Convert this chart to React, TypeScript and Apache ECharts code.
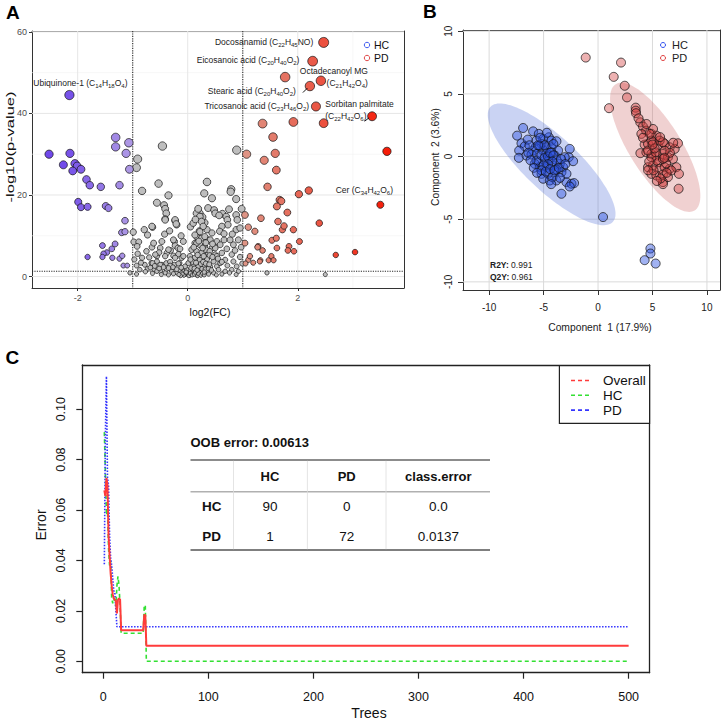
import { useEffect, useRef } from 'react';
import * as echarts from 'echarts';

const SANS = '"Liberation Sans", Arial, Helvetica, sans-serif';

// ---------- Panel A: volcano plot, points are [log2(FC), -log10(p-value)] ----------
const upRegulated: number[][] = [
  [2.47, 57.4], [2.27, 52.8], [1.77, 48.9], [2.42, 48.0], [2.22, 46.7], [2.33, 41.7], [3.35, 39.3],
  [1.92, 37.9], [2.47, 37.6], [1.36, 37.5], [3.62, 30.7], [3.50, 17.6], [1.07, 30.0], [1.39, 28.5],
  [1.55, 34.2], [1.59, 30.2], [1.61, 26.1], [1.45, 22.0], [1.67, 18.8], [1.70, 18.5], [2.02, 20.2],
  [2.20, 21.1], [1.62, 17.2], [1.64, 13.5], [1.81, 15.7], [1.72, 11.5], [1.75, 12.4], [1.92, 11.5],
  [2.39, 13.1], [2.03, 8.6], [1.33, 14.3], [1.04, 15.1], [1.10, 12.1], [1.22, 11.1], [1.28, 7.4],
  [1.36, 6.4], [1.53, 8.9], [1.61, 9.4], [1.62, 7.0], [1.84, 7.4], [1.82, 6.4], [1.93, 6.2],
  [1.32, 4.0], [1.47, 4.0], [1.52, 5.0], [1.56, 4.0], [1.04, 8.2], [1.10, 4.1], [1.05, 3.2],
  [1.13, 5.0], [2.69, 5.3], [3.04, 6.0], [1.27, 7.2], [1.19, 3.4], [1.31, 3.7],
];

const downRegulated: number[][] = [
  [-2.15, 44.5], [-2.52, 30.0], [-2.26, 27.4], [-2.14, 30.2], [-2.05, 27.7], [-2.01, 27.1], [-1.94, 26.3],
  [-2.09, 25.9], [-1.84, 23.8], [-1.78, 22.4], [-1.58, 22.0], [-1.24, 22.4], [-1.99, 18.3], [-1.94, 17.0],
  [-1.82, 17.1], [-1.49, 17.3], [-1.44, 16.8], [-1.31, 34.1], [-1.07, 32.8], [-1.31, 31.8], [-1.12, 30.2],
  [-1.06, 26.3], [-1.14, 13.7], [-1.20, 10.8], [-1.14, 11.0], [-1.55, 7.6], [-1.32, 8.0], [-1.38, 6.8],
  [-1.47, 5.9], [-1.53, 5.6], [-1.55, 4.8], [-1.37, 4.6], [-1.24, 4.4], [-1.19, 5.1], [-1.82, 4.8],
  [-1.17, 2.7], [-1.10, 2.7],
];

const notSignificant: number[][] = [
  [-0.46, 32.0], [-0.91, 28.8], [-0.93, 26.7], [-0.53, 22.8], [-0.83, 21.0], [-0.35, 19.9], [-0.56, 18.1],
  [-0.43, 17.5], [-0.41, 16.6], [-0.39, 15.5], [-0.41, 14.1], [-0.23, 13.7], [-0.20, 12.7], [-0.64, 12.1],
  [-0.79, 11.5], [-0.73, 10.2], [-0.99, 10.9], [-0.98, 8.5], [-0.89, 8.5], [-0.92, 7.4], [-0.65, 7.2],
  [-0.50, 7.0], [-0.24, 8.6], [-0.23, 7.6], [-0.18, 7.0],
  [0.89, 31.0], [0.35, 23.2], [0.30, 20.4], [0.44, 19.2], [0.37, 16.8], [0.48, 16.3], [0.22, 15.5],
  [0.27, 14.6], [0.31, 13.2], [0.79, 21.4], [0.78, 20.8], [0.88, 19.0], [0.98, 16.6], [0.75, 16.5],
  [0.63, 15.4], [0.50, 15.5], [0.70, 14.7], [0.72, 13.9], [0.88, 15.1], [0.90, 13.9], [0.73, 12.7],
  [0.62, 12.3], [0.88, 11.5], [0.95, 11.9], [0.57, 15.0],
  [-0.83, 4.6], [-0.70, 4.7], [-0.56, 5.0], [-0.52, 5.9], [-0.38, 5.8], [-0.31, 6.4], [-0.26, 5.1],
  [-0.17, 5.5], [-0.11, 4.6], [-0.93, 2.7], [-0.78, 2.9], [-0.66, 3.3], [-0.56, 3.7], [-0.47, 2.9],
  [-0.39, 3.3], [-0.32, 3.6], [-0.24, 2.9], [-0.15, 3.3], [-0.87, 1.7], [-0.73, 1.9], [-0.61, 1.7],
  [-0.50, 1.3], [-0.39, 1.7], [-0.29, 1.3], [-0.20, 0.9], [-0.08, 1.3], [-0.02, 0.7], [0.07, 0.9],
  [0.35, 11.5], [0.44, 10.7], [0.21, 11.2], [0.16, 9.8], [0.25, 9.4], [0.37, 9.0], [0.53, 8.6],
  [0.13, 8.2], [0.22, 7.8], [0.31, 7.4], [0.44, 7.0], [0.07, 6.6], [0.16, 6.2], [0.25, 5.8],
  [0.37, 5.8], [0.50, 5.4], [0.04, 5.0], [0.13, 4.6], [0.22, 4.1], [0.35, 4.3], [0.47, 3.7],
  [0.01, 3.3], [0.10, 2.9], [0.19, 2.5], [0.30, 2.7], [0.41, 2.4], [0.53, 2.5], [-0.02, 1.7],
  [0.10, 1.3], [0.22, 1.0], [0.35, 1.3], [0.47, 0.9], [-0.05, 0.5], [0.04, 0.3], [0.16, 0.4],
  [0.66, 9.0], [0.77, 9.0], [0.83, 7.8], [0.92, 9.0], [0.59, 7.8], [0.50, 7.0], [0.71, 6.8],
  [0.62, 5.8], [0.80, 5.4], [0.53, 5.0], [0.95, 4.8], [0.68, 4.1], [0.83, 3.7], [0.59, 3.3],
  [0.72, 2.7], [0.89, 2.5], [0.80, 1.7], [0.68, 1.3], [0.56, 1.7], [0.92, 1.3], [1.44, 0.9],
  [2.50, 0.5], [-1.05, 0.9],
  [-0.41, 13.9], [-0.23, 13.9], [-0.21, 12.9], [-0.65, 12.3], [-0.47, 8.6], [-0.26, 9.0], [-0.08, 8.6],
  [-0.35, 6.6], [-0.14, 6.8], [-0.59, 5.4], [-0.41, 5.0], [-0.23, 4.6], [-0.08, 5.0], [-0.64, 3.3],
  [-0.50, 2.9], [-0.32, 2.7], [-0.17, 3.2], [-0.05, 2.5], [-0.56, 1.3], [-0.41, 0.9], [-0.26, 0.7],
  [-0.11, 0.9], [0.01, 0.5], [0.10, 1.7], [0.16, 8.2],
  [0.16, 15.5], [0.22, 14.7], [0.25, 13.5], [0.28, 12.3], [0.22, 11.0], [0.13, 10.2], [0.31, 9.8],
  [0.41, 9.0],
  [0.02, 0.2], [0.05, 0.8], [0.08, 0.4], [0.12, 0.6], [0.14, 1.1], [0.18, 0.2], [0.20, 0.7],
  [0.24, 0.3], [0.27, 0.8], [0.30, 0.4], [-0.03, 1.1], [-0.07, 0.3], [-0.10, 0.6], [-0.13, 0.2],
  [-0.16, 0.5], [0.06, 2.1], [0.12, 2.0], [0.17, 1.6], [0.26, 1.9], [0.32, 1.8], [0.38, 2.0],
  [0.43, 1.6], [0.09, 3.6], [0.15, 3.4], [0.24, 3.1], [0.28, 3.6], [0.33, 3.2], [0.39, 3.0],
  [0.05, 4.2], [0.18, 5.3], [0.29, 5.0], [0.33, 6.6], [0.40, 6.2], [0.11, 7.2], [0.20, 8.7],
  [0.27, 7.0], [0.33, 8.3], [0.45, 8.0], [0.40, 5.2], [0.55, 4.4], [0.62, 3.6], [0.45, 4.8],
  [-0.12, 2.2], [-0.20, 1.8], [-0.27, 2.3], [-0.35, 2.1], [-0.44, 2.3], [-0.52, 2.0], [-0.60, 2.6],
  [-0.68, 2.2], [-0.77, 1.2], [-0.85, 3.4], [-0.97, 4.2], [-0.91, 5.6], [-0.75, 6.2], [-0.62, 8.2],
  [-0.42, 10.4], [-0.33, 11.2], [-0.12, 10.0], [0.05, 12.2], [0.10, 13.1], [0.14, 14.0], [0.19, 16.6],
  [0.58, 11.1], [0.66, 10.5], [0.81, 10.4], [0.97, 7.2], [0.86, 6.4], [0.99, 3.2], [0.76, 0.9],
  [0.62, 0.6], [0.52, 0.4], [0.38, 0.6], [0.30, 1.1], [-0.35, 0.4], [-0.48, 0.5], [-0.64, 0.8],
  [-0.93, 0.6], [0.88, 0.5],
];

// Named metabolites: which point in which group, and where its label sits.
// `leader` holds the pixel offsets (from the point centre) of a short pointer line.
const volcanoAnnotations = [
  { group: 'up', index: 0, text: 'Docosanamid (C{s|22}H{s|45}NO)', label: { position: 'left', distance: 5 } },
  { group: 'up', index: 1, text: 'Eicosanoic acid (C{s|20}H{s|40}O{s|2})', label: { position: 'left', distance: 8, offset: [0, -1] } },
  { group: 'up', index: 3, text: 'Octadecanoyl MG\n(C{s|21}H{s|42}O{s|4})', label: { position: [52, -11], align: 'right', verticalAlign: 'top' } },
  { group: 'up', index: 4, text: 'Stearic acid (C{s|20}H{s|40}O{s|2})', label: { position: 'left', distance: 9, offset: [0, 5] }, leader: [-7, 6.5, -2.5, 2] },
  { group: 'up', index: 5, text: 'Tricosanoic acid (C{s|23}H{s|46}O{s|2})', label: { position: 'left', distance: 2 } },
  { group: 'up', index: 6, text: 'Sorbitan palmitate\n(C{s|22}H{s|42}O{s|6})', label: { position: [-42, -13], align: 'left', verticalAlign: 'top' }, leader: [-7.5, 5, -3, 1.5] },
  { group: 'up', index: 11, text: 'Cer (C{s|34}H{s|42}O{s|6})', label: { position: 'top', distance: 5, offset: [-16, 0] } },
  { group: 'down', index: 0, text: 'Ubiquinone-1 (C{s|14}H{s|18}O{s|4})', label: { position: 'top', distance: 1, offset: [11, 0] } },
];

const fcThreshold = 1;
const pThreshold = 1.3;
const volcanoTicksX = [-2, 0, 2];
const volcanoTicksY = [0, 20, 40, 60];
const volcanoMinorX = [-1, 1, 3];
const volcanoMinorY = [10, 30, 50];

// ---------- Panel B: PLS-DA scores, [component 1, component 2] ----------
const hcScores: number[][] = [
  [-6.88, 2.28], [-7.43, 1.67], [-5.96, 2.01], [-7.03, 1.06], [-6.72, 0.82], [-7.24, 0.48], [-7.27, -0.10],
  [-6.57, 0.08], [-5.44, 1.81], [-5.04, 1.41], [-4.52, 1.54], [-4.28, 1.27], [-5.19, 1.01], [-5.74, 0.74],
  [-5.96, 0.48], [-6.11, 0.16], [-5.60, 0.21], [-5.04, 0.48], [-4.73, 0.74], [-4.28, 0.74], [-3.67, 0.48],
  [-2.60, 0.61], [-2.69, -0.05], [-3.06, -0.05], [-2.29, -0.37], [-3.97, 0.08], [-4.43, -0.19], [-4.89, -0.32],
  [-5.50, -0.45], [-5.81, -0.58], [-5.35, -0.85], [-4.73, -0.85], [-4.13, -0.72], [-3.51, -0.58], [-3.21, -0.85],
  [-5.19, -1.38], [-4.59, -1.38], [-3.97, -1.25], [-3.36, -1.25], [-5.04, -1.77], [-4.43, -1.91], [-3.82, -1.91],
  [-4.19, -1.64], [-2.90, -2.04], [-2.44, -2.17], [-2.20, -2.12], [-2.60, -2.39], [-3.36, -2.97], [0.46, -4.83],
  [4.81, -7.34], [4.81, -7.74], [4.28, -8.27], [5.29, -8.54], [-5.66, 1.27], [-4.73, 0.27], [-3.82, -1.04],
  [-2.90, -1.38], [-3.82, 1.22], [-5.35, 0.88], [-4.28, 0.34], [-6.45, 1.35], [-5.65, -0.32], [-5.20, 0.10],
  [-4.90, -0.10], [-4.60, 0.00], [-4.40, 0.30], [-4.90, 0.90], [-4.10, 0.10], [-3.80, -0.30], [-4.20, -0.40],
  [-4.60, -0.60], [-5.00, -0.70], [-5.20, -1.10], [-4.80, -1.20], [-4.40, -1.00], [-4.00, -1.10], [-3.60, -0.90],
  [-3.40, -0.20], [-4.10, 1.00], [-5.50, 0.90], [-6.30, 0.90], [-6.40, 0.30], [-6.20, -0.30], [-5.90, -0.90],
  [-5.60, -1.30], [-4.30, -2.20], [-3.50, -1.70], [-3.00, -0.60], [-4.70, 1.90], [-5.30, 1.50],
];

const pdScores: number[][] = [
  [-1.13, 7.90], [2.11, 7.50], [1.44, 6.36], [2.45, 5.65], [2.66, 4.72], [1.01, 3.86], [3.46, 3.90],
  [3.46, 3.66], [3.49, 3.46], [3.88, 2.73], [4.13, 2.39], [4.41, 2.07], [3.98, 1.81], [4.90, 1.81],
  [5.36, 1.67], [5.05, 2.20], [4.28, 0.95], [4.59, 1.01], [5.05, 1.14], [5.50, 0.88], [6.12, 1.01],
  [6.58, 0.74], [7.04, 0.61], [7.34, 1.06], [6.90, 1.10], [3.89, 0.27], [4.44, 0.34], [4.90, 0.21],
  [5.36, 0.08], [5.96, 0.21], [6.42, -0.05], [6.88, -0.19], [4.59, -0.85], [5.05, -0.72], [5.60, -0.45],
  [5.66, -0.98], [6.12, -0.85], [6.58, -0.98], [7.19, -0.85], [4.90, -1.38], [5.36, -1.51], [5.96, -1.43],
  [6.42, -1.64], [5.96, -2.04], [5.96, -2.20], [7.40, -2.57], [7.43, -1.38], [6.73, -1.11], [5.36, -0.32],
  [4.90, -0.05], [6.25, -0.55], [5.96, -0.19], [6.60, 0.30], [4.59, 0.48], [5.29, 0.34], [6.12, 0.48],
  [5.66, 1.27], [4.90, 1.27], [5.96, 1.14], [4.74, 1.81], [5.70, 1.55], [4.45, 2.60], [3.72, 3.05],
  [4.13, 1.50], [5.10, -1.10], [5.75, -1.75], [6.30, -1.30], [5.40, -1.95], [4.70, -0.40], [5.20, 0.65],
  [6.10, -0.10], [5.00, 0.95], [4.60, -1.10],
];

// Confidence ellipses: centre, semi-axis vectors (data units)
const hcEllipse = { cx: -4.26, cy: -0.62, ax: 5.61, ay: -4.60, bx: -1.71, by: -1.56 };
const pdEllipse = { cx: 5.25, cy: 0.74, ax: 3.62, ay: -5.04, bx: -2.02, by: -1.09 };
const scoreTicks = [-10, -5, 0, 5, 10];
const modelFit = [['R2Y:', '0.991'], ['Q2Y:', '0.961']];

// ---------- Panel C: random forest error vs number of trees ----------
const overallTrees = [1, 2, 3, 4, 5, 6, 7, 8, 9, 10, 11, 12, 13, 14, 15, 16, 17, 38, 39, 40, 41, 500];
const overallError = [0.0678, 0.0655, 0.0727, 0.0700, 0.0500, 0.0420, 0.0350, 0.0300, 0.0265, 0.0250, 0.0245,
  0.0240, 0.0190, 0.0245, 0.0250, 0.0245, 0.0123, 0.0123, 0.0184, 0.0184, 0.00613, 0.00613];
const hcTrees = [1, 2, 3, 4, 5, 6, 7, 8, 9, 10, 11, 12, 13, 14, 15, 16, 17, 38, 39, 40, 41, 500];
const hcError = [0.0909, 0.0750, 0.0580, 0.0600, 0.0450, 0.0380, 0.0400, 0.0250, 0.0230, 0.0250, 0.0230,
  0.0220, 0.0300, 0.0337, 0.0300, 0.0222, 0.0111, 0.0111, 0.0222, 0.0222, 0.0, 0.0];
const pdTrees = [1, 2, 3, 4, 5, 6, 7, 8, 9, 10, 11, 12, 13, 500];
const pdError = [0.0385, 0.0900, 0.1130, 0.0730, 0.0700, 0.0500, 0.0410, 0.0380, 0.0330, 0.0280, 0.0274,
  0.0200, 0.0137, 0.0137];
const treeTicks = [0, 100, 200, 300, 400, 500];
const errorTicks = [0, 0.02, 0.04, 0.06, 0.08, 0.10];

const oobLabel = 'OOB error: 0.00613';
const confusionHeader = ['', 'HC', 'PD', 'class.error'];
const confusionRows = [
  ['HC', '90', '0', '0.0'],
  ['PD', '1', '72', '0.0137'],
];

// plot areas (left, top, width, height) for the three panels
const frameA = [32, 31, 372, 257];
const frameB = [463, 30, 257, 260];
const frameC = [82.3, 365, 567.3, 307.7];

// ---------- helpers ----------
function mix(a: number[], b: number[], t: number) {
  const c = a.map((v, i) => Math.round(v + (b[i] - v) * t));
  return `rgb(${c[0]},${c[1]},${c[2]})`;
}

function volcanoColor(fc: number, p: number) {
  if (Math.abs(fc) < fcThreshold || p < pThreshold) return '#BEBEBE';
  if (fc < 0) return mix([176, 156, 228], [112, 72, 234], Math.min(1, (-fc - 1) / 1.3));
  return mix([222, 150, 135], [246, 28, 8], Math.min(1, (fc - 1) / 2.6));
}

function volcanoSize(p: number) {
  return 3.5 + 6.5 * Math.sqrt(Math.max(p, 0) / 57);
}

const subRich = {
  s: { fontSize: 6, fontFamily: SANS, color: '#222', verticalAlign: 'bottom', lineHeight: 12 },
};

const groupPoints: Record<string, number[][]> = { up: upRegulated, down: downRegulated, ns: notSignificant };

function volcanoItems(points: number[][], group: string) {
  return points.map((v, i) => {
    const a = volcanoAnnotations.find((n) => n.group === group && n.index === i);
    if (!a) return v;
    return {
      value: v,
      label: {
        show: true,
        formatter: a.text,
        fontSize: 8.5,
        fontFamily: SANS,
        color: '#222',
        lineHeight: 12,
        rich: subRich,
        ...a.label,
      },
    };
  });
}

const guideStyles: Record<number, any> = {
  0: { stroke: '#E6E6E6', lineWidth: 1 },
  1: { stroke: '#F2F2F2', lineWidth: 0.6 },
  2: { stroke: '#2A2A2A', lineWidth: 1.1, lineDash: [1.2, 1.2] },
  3: { stroke: '#DADADA', lineWidth: 1 },
};

// Reference lines spanning a whole grid: [value, 0 = vertical | 1 = horizontal, style]
function guideSeries(idx: number, items: number[][]) {
  return {
    type: 'custom',
    xAxisIndex: idx,
    yAxisIndex: idx,
    z: 1,
    silent: true,
    data: items,
    renderItem: (params: any, api: any) => {
      const cs = params.coordSys;
      const v = api.value(0);
      const style = guideStyles[api.value(2)];
      if (api.value(1) === 0) {
        const x = api.coord([v, 0])[0];
        return { type: 'line', shape: { x1: x, y1: cs.y, x2: x, y2: cs.y + cs.height }, style };
      }
      const y = api.coord([0, v])[1];
      return { type: 'line', shape: { x1: cs.x, y1: y, x2: cs.x + cs.width, y2: y }, style };
    },
  };
}

// Short pointer lines from a label to its metabolite point
function leaderSeries() {
  const items = volcanoAnnotations
    .filter((a) => a.leader)
    .map((a) => [...groupPoints[a.group][a.index], ...(a.leader as number[])]);
  return {
    type: 'custom',
    xAxisIndex: 0,
    yAxisIndex: 0,
    z: 3,
    silent: true,
    data: items,
    renderItem: (_p: any, api: any) => {
      const c = api.coord([api.value(0), api.value(1)]);
      return {
        type: 'line',
        shape: { x1: c[0] + api.value(2), y1: c[1] + api.value(3), x2: c[0] + api.value(4), y2: c[1] + api.value(5) },
        style: { stroke: '#000', lineWidth: 0.9 },
      };
    },
  };
}

function ellipseSeries(e: typeof hcEllipse, fill: string) {
  return {
    type: 'custom',
    xAxisIndex: 1,
    yAxisIndex: 1,
    z: 1.5,
    silent: true,
    data: [[e.cx, e.cy, e.ax, e.ay, e.bx, e.by]],
    renderItem: (_p: any, api: any) => {
      const [cx, cy, ax, ay, bx, by] = [0, 1, 2, 3, 4, 5].map((d) => api.value(d));
      const pts: number[][] = [];
      for (let i = 0; i < 120; i++) {
        const t = (i / 120) * Math.PI * 2;
        pts.push(api.coord([cx + ax * Math.cos(t) + bx * Math.sin(t), cy + ay * Math.cos(t) + by * Math.sin(t)]));
      }
      return { type: 'polygon', shape: { points: pts }, style: { fill } };
    },
  };
}

const zip = (xs: number[], ys: number[]) => xs.map((x, i) => [x, ys[i]]);

function text(x: number, y: number, s: string, o: any = {}) {
  const { rotation, ...style } = o;
  return {
    type: 'text',
    x,
    y,
    z: 50,
    rotation: rotation || 0,
    silent: true,
    style: { text: s, fontFamily: SANS, fontSize: 10, fill: '#111', align: 'center', verticalAlign: 'middle', ...style },
  };
}

function hline(x1: number, x2: number, y: number, stroke: string, lineWidth: number) {
  return { type: 'line', z: 50, silent: true, shape: { x1, y1: y, x2, y2: y }, style: { stroke, lineWidth } };
}

function vline(x: number, y1: number, y2: number, stroke: string, lineWidth: number) {
  return { type: 'line', z: 50, silent: true, shape: { x1: x, y1, x2: x, y2 }, style: { stroke, lineWidth } };
}

function gridOf(f: number[]) {
  return { left: f[0], top: f[1], width: f[2], height: f[3], show: false, outerBoundsMode: 'none' };
}

// a labelled axis whose line forms one side of the plot box
function mainAxis(grid: number, min: number, max: number, ticks: number[], frameColor: string, frameWidth: number, tick: any, label: any) {
  return {
    gridIndex: grid, type: 'value', min, max,
    axisLine: { show: true, onZero: false, lineStyle: { color: frameColor, width: frameWidth } },
    splitLine: { show: false },
    axisTick: { show: true, ...tick, customValues: ticks },
    axisLabel: { fontFamily: SANS, ...label, customValues: ticks },
  };
}

// a bare axis drawing the opposite side of the plot box
function boxSide(grid: number, position: string, color: string, width: number) {
  return {
    gridIndex: grid, type: 'value', position, min: 0, max: 1,
    axisLine: { show: true, onZero: false, lineStyle: { color, width } },
    axisTick: { show: false }, axisLabel: { show: false }, splitLine: { show: false },
  };
}

function buildOption() {
  // table layout in panel C
  const colX = [211.7, 270, 346.7, 438.3];
  const headerY = 476.7;
  const rowY = [506.5, 536.5];
  const table: any[] = [
    text(190.5, 442.5, oobLabel, { fontSize: 13, fontWeight: 'bold', align: 'left' }),
    hline(190.5, 490, 460, '#666', 1.6),
    hline(190.5, 490, 491.7, '#B0B0B0', 1.4),
    hline(190.5, 490, 550, '#555', 1.6),
    vline(233.5, 460.8, 549.2, '#DDD', 0.8),
    vline(307.4, 460.8, 549.2, '#DDD', 0.8),
    vline(386, 460.8, 549.2, '#DDD', 0.8),
  ];
  confusionHeader.forEach((h, i) => {
    if (h) table.push(text(colX[i], headerY, h, { fontSize: 13, fontWeight: 'bold' }));
  });
  confusionRows.forEach((row, r) => {
    row.forEach((cell, c) => {
      table.push(text(colX[c], rowY[r], cell, { fontSize: 13.5, fontWeight: c === 0 ? 'bold' : 'normal' }));
    });
  });

  const cLegend = [
    ['Overall', '#FF3B3B'],
    ['HC', '#33E033'],
    ['PD', '#3434FF'],
  ];

  const graphic: any[] = [
    text(6, 12.5, 'A', { fontSize: 19, fontWeight: 'bold', align: 'left', fill: '#000' }),
    text(423, 11.5, 'B', { fontSize: 19, fontWeight: 'bold', align: 'left', fill: '#000' }),
    text(5.5, 357, 'C', { fontSize: 19, fontWeight: 'bold', align: 'left', fill: '#000' }),
    // panel A axis titles + legend (the y title is drawn stretched along its length)
    { ...text(0, 0, '-log10(p-value)', { fontSize: 11 }), x: 10, y: 147, rotation: Math.PI / 2, scaleX: 1.5 },
    text(210, 312, 'log2(FC)', { fontSize: 10.5 }),
    { type: 'circle', z: 50, silent: true, shape: { cx: 367, cy: 45, r: 2.7 }, style: { fill: 'none', stroke: '#3F5BF0', lineWidth: 1 } },
    { type: 'circle', z: 50, silent: true, shape: { cx: 367, cy: 58, r: 2.7 }, style: { fill: 'none', stroke: '#E04848', lineWidth: 1 } },
    text(374, 45, 'HC', { fontSize: 10.5, align: 'left' }),
    text(374, 58, 'PD', { fontSize: 10.5, align: 'left' }),
    // panel B axis titles, legend, fit statistics
    { ...text(0, 0, 'Component  2 (3.6%)', { fontSize: 10.3, fill: '#222' }), x: 435, y: 157, rotation: Math.PI / 2 },
    text(600, 327, 'Component  1 (17.9%)', { fontSize: 10.3, fill: '#222' }),
    { type: 'circle', z: 50, silent: true, shape: { cx: 663, cy: 45, r: 2.5 }, style: { fill: 'none', stroke: '#2F4FF0', lineWidth: 1 } },
    { type: 'circle', z: 50, silent: true, shape: { cx: 663, cy: 58, r: 2.5 }, style: { fill: 'none', stroke: '#E03C3C', lineWidth: 1 } },
    text(672, 45, 'HC', { fontSize: 11, align: 'left', fill: '#222' }),
    text(672, 58, 'PD', { fontSize: 11, align: 'left', fill: '#222' }),
    ...modelFit.map(([k, v], i) =>
      text(490, 265 + i * 12, `{b|${k}} ${v}`, {
        fontSize: 8.5,
        align: 'left',
        fill: '#222',
        rich: { b: { fontWeight: 'bold', fontSize: 8.5, fontFamily: SANS, fill: '#222' } },
      }),
    ),
    // panel C axis titles
    { ...text(0, 0, 'Error', { fontSize: 14 }), x: 40.7, y: 525, rotation: Math.PI / 2 },
    text(369, 713, 'Trees', { fontSize: 14 }),
    // panel C legend
    { type: 'rect', z: 55, silent: true, shape: { x: 559.4, y: 365.7, width: 90.2, height: 57.6 }, style: { fill: '#fff', stroke: '#222', lineWidth: 1.2 } },
    ...cLegend.flatMap(([name, color], i) => {
      const y = 380.5 + i * 14.8;
      return [
        { type: 'line', z: 56, silent: true, shape: { x1: 571, y1: y, x2: 592, y2: y }, style: { stroke: color, lineWidth: 1.6, lineDash: [4, 3] } },
        { ...text(603, y, name, { fontSize: 13.5, align: 'left' }), z: 56 },
      ];
    }),
    ...table,
  ];

  const tickA = { length: 3, lineStyle: { color: '#333', width: 1 } };
  const labelA = { color: '#4D4D4D', fontSize: 9, margin: 5 };
  const tickB = { length: 5, lineStyle: { color: '#333', width: 1 } };
  const tickC = { length: 6, lineStyle: { color: '#222', width: 1.2 } };

  return {
    animation: false,
    backgroundColor: '#fff',
    grid: [gridOf(frameA), gridOf(frameB), gridOf(frameC)],
    xAxis: [
      mainAxis(0, -2.83, 3.93, volcanoTicksX, '#333', 1, tickA, labelA),
      mainAxis(1, -12.4, 11.2, scoreTicks, '#333', 1, tickB, { color: '#222', fontSize: 10, margin: 12 }),
      mainAxis(2, -19.96, 519.96, treeTicks, '#222', 1.3, tickC, { color: '#111', fontSize: 12.5, margin: 18 }),
      boxSide(0, 'top', '#333', 1),
      boxSide(1, 'top', '#333', 1),
      boxSide(2, 'top', '#222', 1.3),
    ],
    yAxis: [
      mainAxis(0, -2.8, 60.2, volcanoTicksY, '#333', 1, tickA, labelA),
      mainAxis(1, -10.65, 10.1, scoreTicks, '#333', 1, tickB, { color: '#222', fontSize: 10, margin: 10, rotate: 90 }),
      mainAxis(2, -0.00452, 0.11752, errorTicks, '#222', 1.3, tickC, {
        color: '#111', fontSize: 12.5, margin: 15, rotate: 90, formatter: (v: number) => v.toFixed(2),
      }),
      boxSide(0, 'right', '#333', 1),
      boxSide(1, 'right', '#333', 1),
      boxSide(2, 'right', '#222', 1.3),
    ],
    series: [
      guideSeries(0, [
        ...volcanoMinorX.map((v) => [v, 0, 1]),
        ...volcanoMinorY.map((v) => [v, 1, 1]),
        ...volcanoTicksX.map((v) => [v, 0, 0]),
        ...volcanoTicksY.map((v) => [v, 1, 0]),
        [-fcThreshold, 0, 2],
        [fcThreshold, 0, 2],
        [pThreshold, 1, 2],
      ]),
      ...['ns', 'down', 'up'].map((group) => ({
        type: 'scatter',
        xAxisIndex: 0,
        yAxisIndex: 0,
        z: 2,
        data: volcanoItems(groupPoints[group], group),
        symbolSize: (v: number[]) => volcanoSize(v[1]),
        itemStyle: {
          color: (p: any) => volcanoColor(p.value[0], p.value[1]),
          borderColor: '#111',
          borderWidth: 0.7,
          opacity: 1,
        },
        label: { show: false },
      })),
      leaderSeries(),
      guideSeries(1, [
        ...scoreTicks.map((v) => [v, 0, 3]),
        ...scoreTicks.map((v) => [v, 1, 3]),
      ]),
      ellipseSeries(hcEllipse, 'rgba(80,110,215,0.30)'),
      ellipseSeries(pdEllipse, 'rgba(200,90,90,0.28)'),
      {
        type: 'scatter', xAxisIndex: 1, yAxisIndex: 1, z: 2, data: hcScores, symbolSize: 9,
        itemStyle: { color: 'rgba(40,80,225,0.55)', borderColor: '#111', borderWidth: 0.9 },
      },
      {
        type: 'scatter', xAxisIndex: 1, yAxisIndex: 1, z: 2, data: pdScores, symbolSize: 9,
        itemStyle: { color: 'rgba(210,60,60,0.5)', borderColor: '#111', borderWidth: 0.9 },
      },
      {
        type: 'line', xAxisIndex: 2, yAxisIndex: 2, z: 3, data: zip(hcTrees, hcError), showSymbol: false,
        lineStyle: { color: '#33E033', width: 1.6, type: [4, 3] },
      },
      {
        type: 'line', xAxisIndex: 2, yAxisIndex: 2, z: 3, data: zip(pdTrees, pdError), showSymbol: false,
        lineStyle: { color: '#3434FF', width: 1.6, type: [1.5, 1.5] },
      },
      {
        type: 'line', xAxisIndex: 2, yAxisIndex: 2, z: 4, data: zip(overallTrees, overallError), showSymbol: false,
        lineStyle: { color: '#FF3B3B', width: 2 },
      },
    ],
    graphic,
  };
}

export default function App() {
  const ref = useRef<HTMLDivElement>(null);
  useEffect(() => {
    const chart = echarts.init(ref.current!, null, { renderer: 'svg' });
    chart.setOption(buildOption() as any);
    return () => chart.dispose();
  }, []);
  return (
    <div
      ref={ref}
      style={{ position: 'absolute', left: 0, top: 0, width: 725, height: 720, background: '#fff' }}
    />
  );
}
